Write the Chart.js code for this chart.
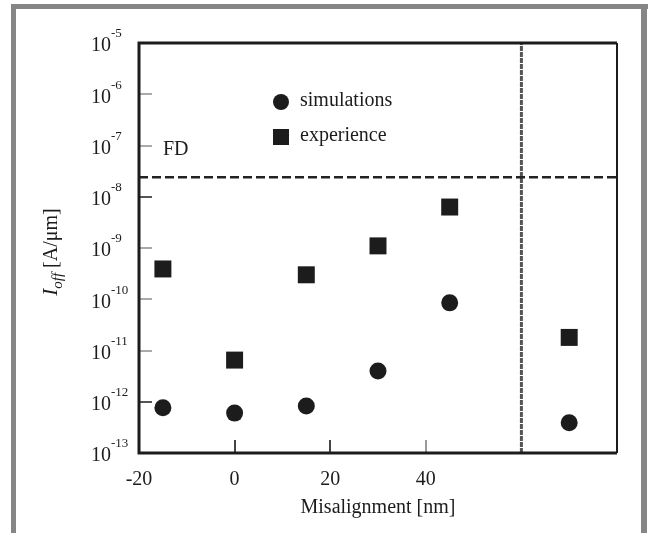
<!DOCTYPE html>
<html>
<head>
<meta charset="utf-8">
<script src="https://cdn.jsdelivr.net/npm/chart.js@4"></script>
<style>
	body { margin: 0; background: #fff; }
	canvas { display: block; }
</style>
</head>
<body>
<canvas id="chart" width="648" height="533"></canvas>
<script>
// data
var misalignment = [-15, 0, 15, 30, 45, 70];
var simulations = [7.6e-13, 6e-13, 8.3e-13, 4e-12, 8.5e-11, 3.9e-13];
var experience = [3.9e-10, 6.5e-12, 3e-10, 1.1e-9, 6.3e-9, 1.8e-11];
var xTicks = [-20, 0, 20, 40];
var yTickExps = [-5, -6, -7, -8, -9, -10, -11, -12, -13];
var fdLevel = 2.4e-8;
var limitX = 60;

var SERIF = '"Liberation Serif", "DejaVu Serif", serif';
var INK = '#1c1c1c';

function toPoints(ys) {
	return misalignment.map(function(x, i) { return { x: x, y: ys[i] }; });
}

// frame, axes, ticks and all the text
var decorPlugin = {
	id: 'decor',
	afterDraw: function(chart) {
		var ctx = chart.ctx;
		var area = chart.chartArea;
		var xs = chart.scales.x;
		var ys = chart.scales.y;
		ctx.save();

		// grey page frame
		ctx.fillStyle = '#868686';
		ctx.fillRect(11, 4, 637, 5);
		ctx.fillRect(11, 4, 5, 529);
		ctx.fillRect(641, 4, 6, 529);

		// y ticks (inward)
		ctx.lineWidth = 2;
		yTickExps.forEach(function(e) {
			var py = Math.round(ys.getPixelForValue(Math.pow(10, e)));
			if (e === -5 || e === -13) return;
			ctx.strokeStyle = (e === -8 || e === -12) ? '#555' : '#aaa';
			ctx.beginPath();
			ctx.moveTo(area.left, py);
			ctx.lineTo(area.left + 13, py);
			ctx.stroke();
		});
		// x ticks (inward)
		xTicks.forEach(function(v) {
			if (v === xs.min) return;
			var px = Math.round(xs.getPixelForValue(v));
			ctx.strokeStyle = v === 40 ? '#999' : '#444';
			ctx.beginPath();
			ctx.moveTo(px, area.bottom);
			ctx.lineTo(px, area.bottom - 13);
			ctx.stroke();
		});

		// plot box
		ctx.strokeStyle = INK;
		ctx.lineWidth = 3;
		ctx.beginPath();
		ctx.moveTo(area.right, area.top);
		ctx.lineTo(area.left, area.top);
		ctx.lineTo(area.left, area.bottom);
		ctx.lineTo(area.right, area.bottom);
		ctx.stroke();
		ctx.lineWidth = 2;
		ctx.beginPath();
		ctx.moveTo(area.right, area.top);
		ctx.lineTo(area.right, area.bottom);
		ctx.stroke();

		// y tick labels 10^e
		ctx.fillStyle = INK;
		ctx.textBaseline = 'middle';
		ctx.textAlign = 'left';
		yTickExps.forEach(function(e) {
			var py = ys.getPixelForValue(Math.pow(10, e));
			ctx.font = '20px ' + SERIF;
			ctx.fillText('10', 91, py + 3);
			var w = ctx.measureText('10').width;
			ctx.font = '13px ' + SERIF;
			ctx.fillText(String(e), 91 + w, py - 9);
		});

		// x tick labels
		ctx.font = '20px ' + SERIF;
		ctx.textAlign = 'center';
		xTicks.forEach(function(v) {
			ctx.fillText(String(v), xs.getPixelForValue(v), 480);
		});

		// x title
		ctx.fillText('Misalignment [nm]', (area.left + area.right) / 2, 508);

		// y title, rotated
		ctx.save();
		ctx.translate(50, 252);
		ctx.rotate(-Math.PI / 2);
		ctx.textAlign = 'left';
		ctx.textBaseline = 'alphabetic';
		var parts = [
			{ t: 'I', f: 'italic 21px ' + SERIF, dy: 0 },
			{ t: 'off', f: 'italic 15px ' + SERIF, dy: 5 },
			{ t: ' [A/\u03bcm]', f: '20px ' + SERIF, dy: 0 }
		];
		var total = 0;
		parts.forEach(function(p) { ctx.font = p.f; p.w = ctx.measureText(p.t).width; total += p.w; });
		var cx = -total / 2;
		parts.forEach(function(p) {
			ctx.font = p.f;
			ctx.fillText(p.t, cx, 7 + p.dy);
			cx += p.w;
		});
		ctx.restore();

		// in-plot legend
		ctx.fillStyle = INK;
		ctx.beginPath();
		ctx.arc(281, 102, 8, 0, Math.PI * 2);
		ctx.fill();
		ctx.fillRect(273, 129, 16, 16);
		ctx.font = '20px ' + SERIF;
		ctx.textAlign = 'left';
		ctx.textBaseline = 'middle';
		ctx.fillText('simulations', 300, 101);
		ctx.fillText('experience', 300, 136);

		// FD label
		ctx.fillText('FD', 163, 150);

		ctx.restore();
	}
};

var ctx = document.getElementById('chart').getContext('2d');
var chart = new Chart(ctx, {
	type: 'scatter',
	data: {
		datasets: [{
			label: 'simulations',
			data: toPoints(simulations),
			pointStyle: 'circle',
			pointRadius: 8.5,
			backgroundColor: INK,
			borderColor: INK,
			borderWidth: 0
		}, {
			label: 'experience',
			data: toPoints(experience),
			pointStyle: 'rect',
			pointRadius: 12,
			backgroundColor: INK,
			borderColor: INK,
			borderWidth: 0
		}, {
			label: 'FD',
			data: [{ x: -20, y: fdLevel }, { x: 80, y: fdLevel }],
			showLine: true,
			pointRadius: 0,
			borderColor: '#222',
			borderWidth: 2.5,
			borderDash: [9, 4]
		}, {
			label: 'limit',
			data: [{ x: limitX, y: 1e-13 }, { x: limitX, y: 1e-5 }],
			showLine: true,
			pointRadius: 0,
			borderColor: '#555',
			borderWidth: 3,
			borderDash: [5, 1]
		}]
	},
	options: {
		responsive: false,
		animation: false,
		layout: {
			padding: { left: 139, right: 31, top: 43, bottom: 80 }
		},
		scales: {
			x: {
				type: 'linear',
				display: false,
				min: -20,
				max: 80
			},
			y: {
				type: 'logarithmic',
				display: false,
				min: 1e-13,
				max: 1e-5
			}
		},
		plugins: {
			legend: { display: false },
			tooltip: { enabled: false }
		}
	},
	plugins: [decorPlugin]
});
</script>
</body>
</html>
